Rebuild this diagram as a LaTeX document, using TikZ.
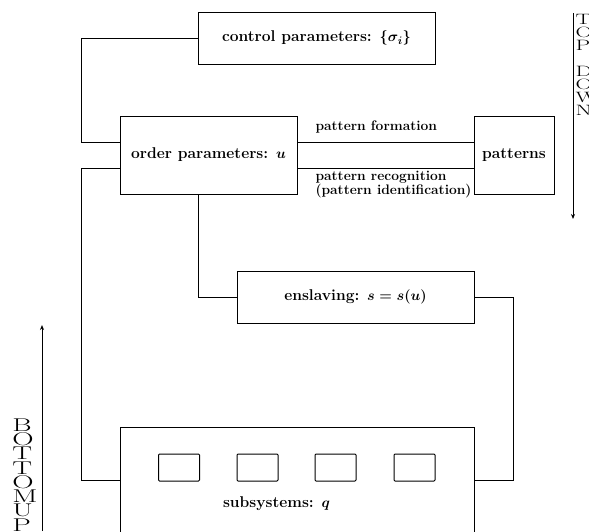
\documentclass[tikz,border=0pt]{standalone}
\usetikzlibrary{arrows.meta}
\newcommand{\stackletters}[2]{\vbox{\baselineskip=#1\lineskiplimit=-20pt\lineskip=0pt #2}}
\begin{document}
\begin{tikzpicture}[x=1pt,y=-1pt,
  line width=1pt,
  box/.style={draw, line width=1pt, inner sep=0pt, font=\fontsize{15.6}{18}\selectfont\bfseries\boldmath},
  cell/.style={draw, line width=1pt, inner sep=0pt, minimum width=41pt, minimum height=27pt, rounded corners=1pt},
  lbl/.style={inner sep=0pt, align=left, font=\fontsize{13.8}{14}\selectfont\bfseries\boldmath},
  side/.style={inner sep=0pt, align=left},
  tip/.style={-{Stealth[length=5pt,width=4pt]}, line width=0.9pt}]
\useasboundingbox (0,0) rectangle (589,531);
\clip (0,0) rectangle (589,531);
% boxes
\node[box, minimum width=237pt, minimum height=52pt] (control) at (316.5,38) {control parameters: $\{\sigma_i\}$};
\node[box, minimum width=177pt, minimum height=78pt] (order) at (208.5,155) {order parameters: $u$};
\node[box, minimum width=80pt, minimum height=78pt] (patterns) at (514,155) {patterns};
\node[box, minimum width=237pt, minimum height=52pt] (enslav) at (355.5,297) {enslaving: $s=s(u)$};
\node[box, minimum width=354pt, minimum height=133pt] (subsys) at (297,493.5) {};
\node[box, draw=none] (subtext) at (276.5,504) {subsystems: $q$};
\node[cell] (s1) at (179,467.5) {};
\node[cell] (s2) at (257.5,467.5) {};
\node[cell] (s3) at (335.5,467.5) {};
\node[cell] (s4) at (414.5,467.5) {};
% connector corners
\coordinate (k1) at (81.5,142);
\coordinate (k2) at (81.5,168);
\coordinate (k3) at (81.5,480);
\coordinate (k4) at (198,297);
\coordinate (k5) at (513,297);
\coordinate (k6) at (513,480);
% connectors
\draw (control.west) -| (k1) -- (k1 -| order.west);
\draw (k2 -| order.west) -- (k2) -- (k3) -- (k3 -| subsys.west);
\draw (order.south -| k4) -- (k4) -- (enslav.west);
\draw (enslav.east) -- (k5) -- (k6) -- (k6 -| subsys.east);
\draw (k1 -| order.east) -- (k1 -| patterns.west);
\draw (k2 -| order.east) -- (k2 -| patterns.west);
% labels
\node[lbl, anchor=west] (pf) at (315,127) {pattern formation};
\node[lbl, anchor=west] (pr) at (315,185) {pattern recognition\\(pattern identification)};
% side arrows
\coordinate (tdA) at (573,13);
\coordinate (tdB) at (573,219);
\draw[tip] (tdA) -- (tdB);
\coordinate (buA) at (42,531);
\coordinate (buB) at (42,325);
\draw[tip] (buA) -- (buB);
\node[side, anchor=north west, font=\fontsize{15}{13}\selectfont] (td) at (575,13.5)
  {\scalebox{1.55}[1]{\stackletters{13pt}{\hbox{T}\hbox{O}\hbox{P}\hbox{}\hbox{D}\hbox{O}\hbox{W}\hbox{N}}}};
\node[side, anchor=north west, font=\fontsize{18.5}{14.3}\selectfont] (bu) at (12,418)
  {\scalebox{1.6}[1]{\stackletters{14.3pt}{\hbox{B}\hbox{O}\hbox{T}\hbox{T}\hbox{O}\hbox{M}\hbox{U}\hbox{P}}}};
\end{tikzpicture}
\end{document}
